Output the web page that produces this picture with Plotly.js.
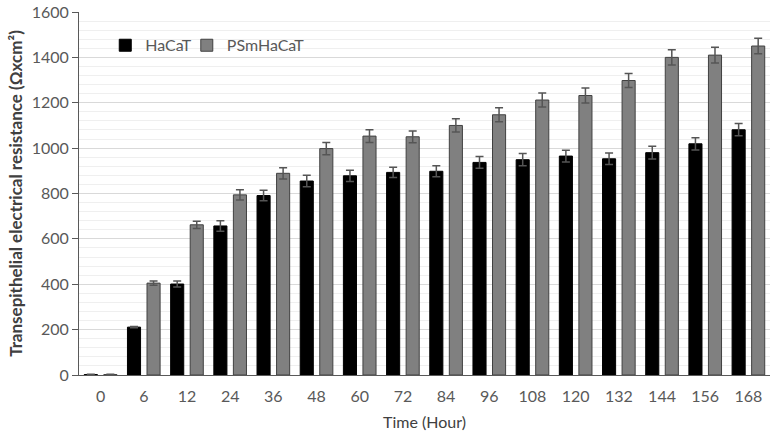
<!DOCTYPE html>
<html>
<head>
<meta charset="utf-8">
<script src="https://cdn.plot.ly/plotly-3.0.1.min.js"></script>
<style>html,body{margin:0;padding:0;background:#fff;}#chart{width:776px;height:437px;}</style>
</head>
<body>
<div id="chart"></div>
<script>
const times = ['0','6','12','24','36','48','60','72','84','96','108','120','132','144','156','168'];
const hacat = [2, 211, 401, 657, 791, 855, 878, 893, 898, 937, 949, 965, 953, 980, 1019, 1081];
const hacatErr = [1, 3, 13, 23, 23, 25, 25, 23, 24, 26, 27, 26, 25, 28, 27, 27];
const psm = [2, 405, 662, 794, 889, 998, 1053, 1050, 1100, 1147, 1212, 1232, 1298, 1400, 1410, 1450];
const psmErr = [1, 9, 16, 23, 25, 27, 28, 26, 29, 31, 31, 33, 31, 34, 35, 34];
const yTicks = [0, 200, 400, 600, 800, 1000, 1200, 1400, 1600];

const FONT = 'Lato, "Open Sans", sans-serif';
const errStyle = {type: 'data', visible: true, color: '#555555', thickness: 1.5, width: 4};

const traces = [
  {type: 'bar', name: 'HaCaT', x: times, y: hacat, legend: 'legend',
   error_y: Object.assign({array: hacatErr}, errStyle),
   marker: {color: '#000000', line: {color: '#000000', width: 1}}},
  {type: 'bar', name: 'PSmHaCaT', x: times, y: psm, legend: 'legend2',
   error_y: Object.assign({array: psmErr}, errStyle),
   marker: {color: '#808080', line: {color: '#404040', width: 1}}}
];

const legendBase = {orientation: 'h', y: 0.955, xanchor: 'left', yanchor: 'top',
  bgcolor: 'rgba(0,0,0,0)', font: {family: FONT, size: 16, color: '#595959'}, itemwidth: 30};

const layout = {
  width: 776, height: 437,
  margin: {l: 79, r: 6, t: 12, b: 62},
  paper_bgcolor: '#ffffff', plot_bgcolor: '#ffffff',
  font: {family: FONT, size: 16, color: '#595959'},
  barmode: 'group', bargap: 0.095, bargroupgap: 0.33,
  showlegend: true,
  legend: Object.assign({x: 0.038}, legendBase),
  legend2: Object.assign({x: 0.156}, legendBase),
  shapes: [{type: 'rect', xref: 'paper', yref: 'paper', x0: 0.018, x1: 0.325, y0: 0.82, y1: 0.985,
            fillcolor: '#ffffff', line: {width: 0}, layer: 'between'}],
  xaxis: {type: 'category', showgrid: false, showline: true, linecolor: '#595959', linewidth: 1,
          ticks: '', ticklabelstandoff: 7, tickfont: {family: FONT, size: 16, color: '#595959'},
          title: {text: 'Time (Hour)', font: {family: FONT, size: 16, color: '#404040'}, standoff: 12}},
  yaxis: {range: [0, 1600], tickvals: yTicks, showline: true, linecolor: '#595959', linewidth: 1,
          ticks: 'outside', ticklen: 6, tickcolor: '#595959',
          gridcolor: '#d9d9d9', gridwidth: 1, zeroline: false,
          minor: {dtick: 40, showgrid: true, gridcolor: '#efefef', gridwidth: 1, ticks: ''},
          tickfont: {family: FONT, size: 16, color: '#595959'},
          title: {text: '<b>Transepithelial electrical resistance (Ωxcm²)</b>',
                  font: {family: FONT, size: 17, color: '#404040'}, standoff: 4}}
};

Plotly.newPlot('chart', traces, layout, {displayModeBar: false, staticPlot: true});
</script>
</body>
</html>
